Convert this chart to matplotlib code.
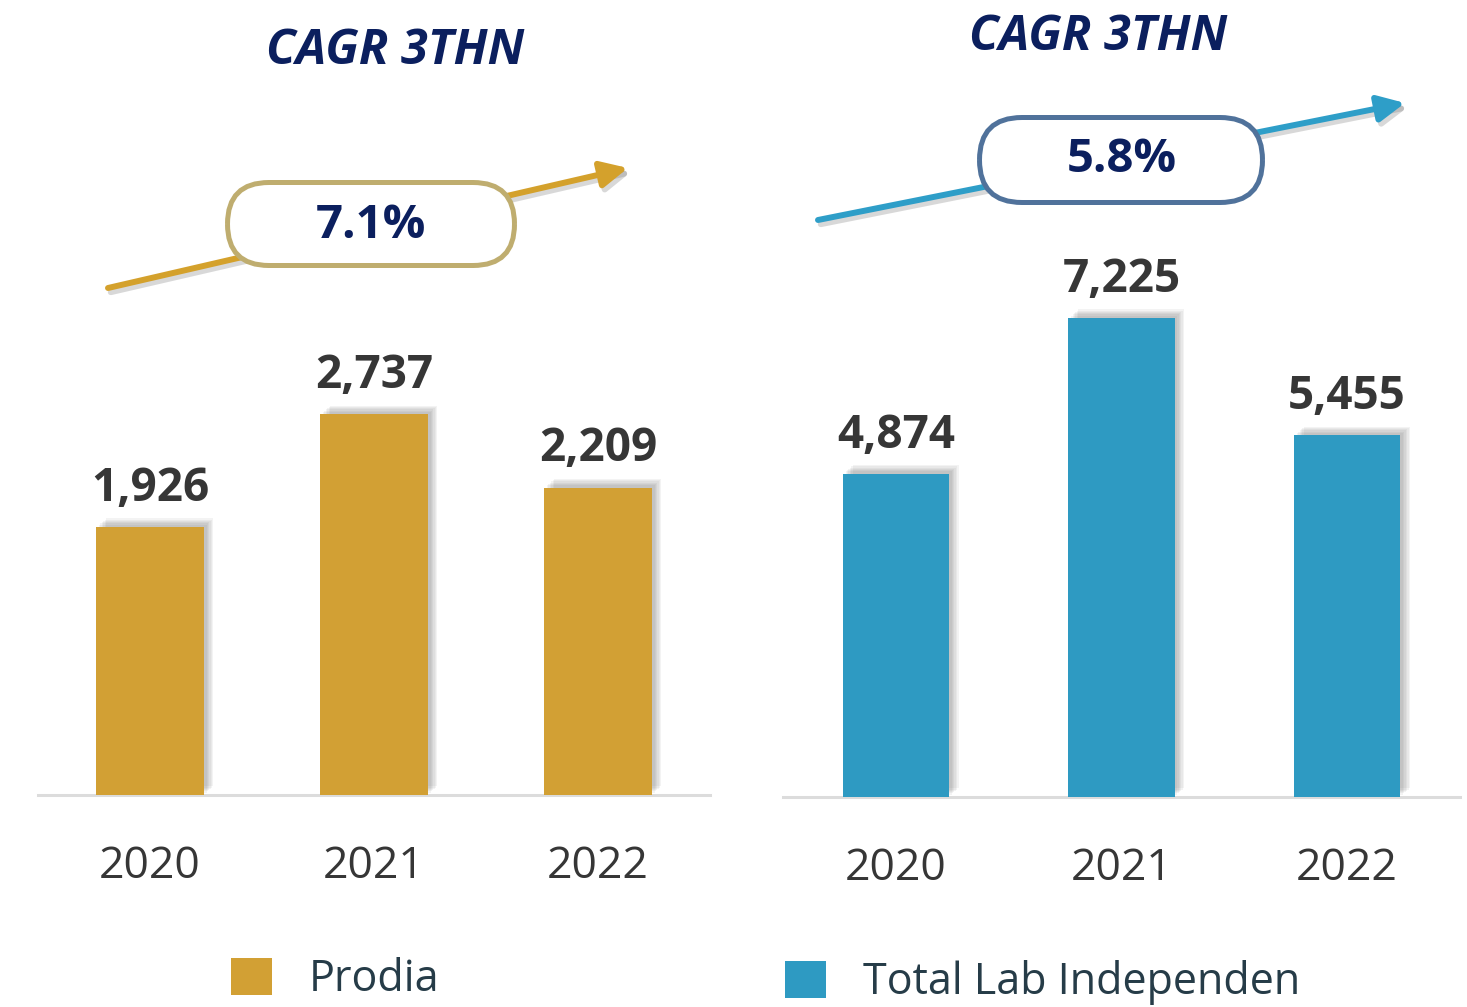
import matplotlib.pyplot as plt
import matplotlib.patheffects as pe
from matplotlib.patches import FancyBboxPatch, FancyArrowPatch

# data
years = ['2020', '2021', '2022']
prodia = [1926, 2737, 2209]
lab_independen = [4874, 7225, 5455]
series_names = ['Prodia', 'Total Lab Independen']
cagr_values = ['7.1%', '5.8%']
panel_title = 'CAGR 3THN'

W, H = 1467, 1007
GOLD = '#d2a034'
BLUE = '#2e9ac2'
NAVY = '#0b1f5e'
TEXT = '#363636'

plt.rcParams['font.family'] = ['Open Sans', 'DejaVu Sans']

fig = plt.figure(figsize=(W / 100, H / 100), dpi=100)
tr = fig.dpi_scale_trans


def inch(x, y):
    # reference pixel position -> figure inches (origin bottom left)
    return x / 100, (H - y) / 100


def bar_shadow():
    layers = []
    for off in [7, 6, 5, 4, 3, 2]:
        layers.append(pe.SimplePatchShadow(offset=(off, off * 0.9), shadow_rgbFace='#6a6a6a', alpha=0.08))
    layers.append(pe.Normal())
    return layers


def draw_panel(left, right, base, values, color, ymax, name, bar_w, legend_x):
    ax = fig.add_axes([left / W, 1 - base / H, (right - left) / W, base / H])
    ax.patch.set_alpha(0)
    bars = ax.bar(range(len(years)), values, width=bar_w, color=color, label=name, zorder=3)
    for b in bars:
        b.set_path_effects(bar_shadow())
    for i, v in enumerate(values):
        ax.annotate(f'{v:,}', (i, v), xytext=(0, 19), textcoords='offset points',
                    ha='center', va='baseline', fontsize=33, fontweight='bold', color=TEXT)
    ax.set_xlim(-0.5, 2.5)
    ax.set_ylim(0, ymax)
    ax.set_xticks(range(len(years)), years)
    ax.set_yticks([])
    ax.tick_params(axis='x', length=0, pad=36, labelsize=32, labelcolor=TEXT)
    for s in ['top', 'left', 'right']:
        ax.spines[s].set_visible(False)
    ax.spines['bottom'].set_color('#dcdcdc')
    ax.spines['bottom'].set_linewidth(2.2)
    leg = ax.legend(loc='center left', bbox_to_anchor=(legend_x, -0.233), frameon=False,
                    fontsize=31, handlelength=0.95, handleheight=0.95, handletextpad=0.85,
                    borderpad=0, borderaxespad=0)
    for t in leg.get_texts():
        t.set_color('#263c48')
    for h in leg.legend_handles:
        h.set_path_effects([])
    return ax


draw_panel(38, 710, 795, prodia, GOLD, 5715, series_names[0], 0.48, 0.287)
draw_panel(783, 1460, 797, lab_independen, BLUE, 12026, series_names[1], 0.47, 0.003)

# trend arrows with the CAGR pill on top
arrow_shadow = [pe.SimpleLineShadow(offset=(2, -3), shadow_color='#808080', alpha=0.3, rho=1), pe.Normal()]
for start, end, col in [((108, 288), (628, 168), '#d4a12c'), ((818, 220), (1405, 103), '#2e9ec8')]:
    arr = FancyArrowPatch(inch(*start), inch(*end), transform=tr,
                          arrowstyle='-|>,head_length=0.45,head_width=0.22', mutation_scale=36,
                          lw=4.3, color=col, shrinkA=0, shrinkB=0, zorder=5)
    arr.set_path_effects(arrow_shadow)
    fig.add_artist(arr)

pills = [((227.5, 265.5), 287, 83, '#bfad6f', (371, 225)),
         ((979.5, 202.5), 283, 85, '#50729b', (1122, 160))]
for (x0, y0), w, h, ec, (tx, ty), val in [p + (v,) for p, v in zip(pills, cagr_values)]:
    box = FancyBboxPatch(inch(x0, y0), w / 100, h / 100, transform=tr,
                         boxstyle=f'round,pad=0,rounding_size={h / 200}',
                         fc='white', ec=ec, lw=3.6, zorder=6)
    fig.add_artist(box)
    fig.text(*inch(tx, ty), val, transform=tr, ha='center', va='center',
             fontsize=34, fontweight='bold', color=NAVY, zorder=7)

for tx, ty in [(395, 52), (1098, 37)]:
    fig.text(*inch(tx, ty), panel_title, transform=tr, ha='center', va='center',
             fontsize=35, fontweight='bold', fontstyle='italic', color=NAVY)

fig.savefig('out.png', dpi=100)
